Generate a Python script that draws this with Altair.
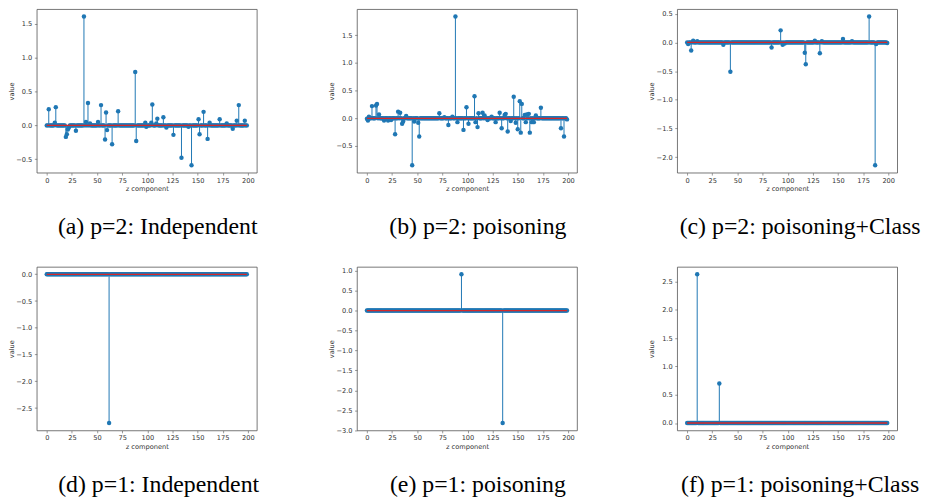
import altair as alt
import pandas as pd

N = 200
x_ticks = [0, 25, 50, 75, 100, 125, 150, 175, 200]

# (a) p=2: Independent  (non-zero components)
a_idx = [2, 8, 9, 19, 20, 21, 22, 29, 37, 39, 41, 43, 51, 54, 58, 59, 60, 65, 71, 88, 89, 98, 99,
         104, 105, 109, 110, 116, 119, 126, 134, 141, 144, 151, 152, 156, 160, 162, 172, 179, 185,
         189, 191, 197]
a_val = [0.24, 0.04, 0.27, -0.17, -0.13, -0.06, -0.03, -0.08, 1.61, 0.05, 0.33, 0.03, 0.05, 0.30,
         -0.21, 0.19, -0.07, -0.28, 0.21, 0.79, -0.23, 0.04, -0.02, 0.04, 0.31, 0.03, 0.10, 0.12,
         -0.03, -0.14, -0.48, -0.02, -0.59, 0.09, -0.13, 0.20, -0.20, 0.04, 0.09, 0.03, -0.05, 0.07,
         0.30, 0.07]

# (b) p=2: poisoning
b_idx = [0, 1, 2, 5, 9, 10, 12, 17, 21, 24, 28, 31, 33, 35, 36, 39, 45, 47, 51, 52, 72, 77, 81, 85,
         88, 90, 96, 99, 101, 107, 108, 110, 111, 115, 117, 120, 124, 128, 132, 134, 137, 138, 140,
         143, 146, 148, 150, 152, 153, 154, 157, 158, 159, 161, 162, 164, 166, 168, 173, 193, 196,
         199]
b_val = [-0.01, -0.04, 0.03, 0.22, 0.23, 0.26, 0.07, -0.04, -0.04, -0.03, -0.29, 0.12, 0.10, -0.10,
         -0.06, 0.04, -0.85, -0.06, -0.08, -0.33, 0.09, 0.02, -0.12, 0.03, 1.84, -0.07, -0.21, 0.20,
         -0.10, 0.40, -0.07, -0.16, 0.09, 0.10, 0.05, -0.03, 0.03, -0.07, 0.10, -0.18, 0.06, 0.08,
         -0.24, -0.05, 0.39, -0.08, -0.20, 0.31, -0.26, 0.26, 0.06, -0.07, 0.07, 0.08, -0.26, -0.07,
         -0.07, 0.05, 0.19, -0.18, -0.33, -0.02]

# (c) p=2: poisoning+Class
c_idx = [1, 4, 6, 10, 36, 43, 84, 93, 95, 97, 117, 118, 127, 132, 134, 155, 164, 181, 187, 188, 199]
c_val = [-0.03, -0.14, 0.03, 0.02, -0.04, -0.51, -0.09, 0.21, -0.04, -0.02, -0.18, -0.38, 0.03,
         -0.19, 0.02, 0.06, 0.02, 0.45, -2.14, -0.03, -0.01]

# (d) p=1: Independent
d_idx = [62]
d_val = [-2.78]

# (e) p=1: poisoning
e_idx = [94, 135]
e_val = [0.91, -2.82]

# (f) p=1: poisoning+Class
f_idx = [10, 32]
f_val = [2.63, 0.70]

y_ticks_a = [-0.5, 0.0, 0.5, 1.0, 1.5]
y_ticks_b = [-0.5, 0.0, 0.5, 1.0, 1.5]
y_ticks_c = [-2.0, -1.5, -1.0, -0.5, 0.0, 0.5]
y_ticks_d = [-2.5, -2.0, -1.5, -1.0, -0.5, 0.0]
y_ticks_e = [-3.0, -2.5, -2.0, -1.5, -1.0, -0.5, 0.0, 0.5, 1.0]
y_ticks_f = [0.0, 0.5, 1.0, 1.5, 2.0, 2.5]

captions = ["(a) p=2: Independent", "(b) p=2: poisoning", "(c) p=2: poisoning+Class",
            "(d) p=1: Independent", "(e) p=1: poisoning", "(f) p=1: poisoning+Class"]
caption_dx = [11, 11, 13, 12, 11, 13]

BLUE = "#1f77b4"
RED = "#d62728"
W, H = 222, 165


def series(idx, val):
    v = [0.0] * N
    for i, x in zip(idx, val):
        v[i] = x
    return pd.DataFrame({"z": list(range(N)), "value": v, "zero": [0.0] * N})


def panel(idx, val, yticks, caption, dx):
    df = series(idx, val)
    lo, hi = df["value"].min(), df["value"].max()
    r = hi - lo
    ys = alt.Scale(domain=[lo - 0.05 * r, hi + 0.05 * r], nice=False, zero=False)
    xs = alt.Scale(domain=[-0.05 * (N - 1), (N - 1) * 1.05], nice=False, zero=False)
    xax = alt.Axis(values=x_ticks, tickCount=len(x_ticks), format="d", title="z component",
                   labelOverlap=False, labelFlush=False, labelBound=False)
    yax = alt.Axis(values=yticks, tickCount=len(yticks), format=".1f", title="value",
                   labelOverlap=False, labelFlush=False, labelBound=False)
    base = alt.Chart(df)
    stems = base.mark_rule(color=BLUE, strokeWidth=1).encode(
        x=alt.X("z:Q", scale=xs, axis=xax),
        y=alt.Y("zero:Q", scale=ys, axis=yax),
        y2="value:Q",
    )
    dots = base.mark_circle(color=BLUE, size=20, opacity=1).encode(
        x=alt.X("z:Q", scale=xs),
        y=alt.Y("value:Q", scale=ys),
    )
    bl = pd.DataFrame({"x0": [0], "x1": [N - 1], "y": [0.0]})
    baseline = alt.Chart(bl).mark_rule(color=RED, strokeWidth=1.3).encode(
        x=alt.X("x0:Q", scale=xs),
        x2="x1:Q",
        y=alt.Y("y:Q", scale=ys),
    )
    return alt.layer(stems, dots, baseline).properties(
        width=W, height=H,
        title=alt.TitleParams(caption, orient="bottom", frame="group", offset=23, dx=dx,
                              anchor="middle", font="Liberation Serif", fontSize=24,
                              fontWeight="normal", color="black"),
    )


panels = [
    panel(a_idx, a_val, y_ticks_a, captions[0], caption_dx[0]),
    panel(b_idx, b_val, y_ticks_b, captions[1], caption_dx[1]),
    panel(c_idx, c_val, y_ticks_c, captions[2], caption_dx[2]),
    panel(d_idx, d_val, y_ticks_d, captions[3], caption_dx[3]),
    panel(e_idx, e_val, y_ticks_e, captions[4], caption_dx[4]),
    panel(f_idx, f_val, y_ticks_f, captions[5], caption_dx[5]),
]

chart = (
    alt.concat(*panels, columns=3, spacing={"row": 95, "column": 101}, bounds="flush")
    .properties(
        autosize=alt.AutoSizeParams(type="none"),
        padding={"left": 29, "top": -1, "right": 893, "bottom": 490},
        background="white",
    )
    .configure_view(stroke="#555555", strokeWidth=0.8)
    .configure_axis(
        labelFont="DejaVu Sans", labelFontSize=6.7, labelColor="#333333",
        titleFont="DejaVu Sans", titleFontSize=6.7, titleFontWeight="normal", titleColor="#333333",
        tickColor="#555555", tickSize=2.4, tickWidth=0.6, domain=False, grid=False,
        labelPadding=2.2, titlePadding=2,
    )
    .configure_axisY(minExtent=19.5, maxExtent=19.5, titlePadding=3, labelPadding=2.6)
)

chart.save("out.html", embed_options={"renderer": "svg", "actions": False})
